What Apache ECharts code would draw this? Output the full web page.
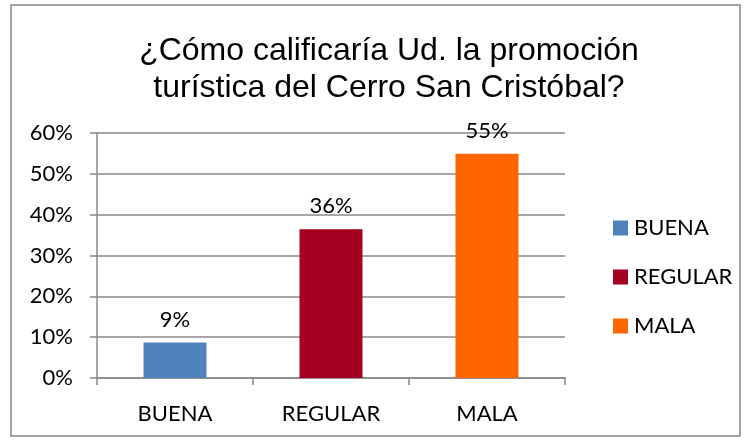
<!DOCTYPE html>
<html>
<head>
<meta charset="utf-8">
<script src="https://cdn.jsdelivr.net/npm/echarts@6/dist/echarts.min.js"></script>
<style>
html,body{margin:0;padding:0;background:#fff;}
#chart{width:750px;height:440px;}
</style>
</head>
<body>
<div id="chart"></div>
<script>
var categories = ['BUENA', 'REGULAR', 'MALA'];
var values = [8.7, 36.4, 54.9];
var labels = ['9%', '36%', '55%'];
var colors = ['#4F81BD', '#A50021', '#FF6600'];
var yTicks = [0, 10, 20, 30, 40, 50, 60];

var labelFont = 'Lato, "Open Sans", sans-serif';
var series = categories.map(function (name, i) {
  var d = categories.map(function (c, j) { return j === i ? values[i] : null; });
  return {
    name: name,
    type: 'bar',
    stack: 'all',
    data: d,
    barWidth: 63,
    itemStyle: { color: colors[i] },
    label: {
      show: true,
      position: 'top',
      distance: 12,
      color: '#000',
      fontSize: 22,
      fontFamily: labelFont,
      formatter: function () { return labels[i]; }
    }
  };
});

var chart = echarts.init(document.getElementById('chart'));
chart.setOption({
  animation: false,
  title: {
    text: '¿Cómo calificaría Ud. la promoción\nturística del Cerro San Cristóbal?',
    left: 384,
    textAlign: 'center',
    top: 28,
    textStyle: {
      fontFamily: '"Liberation Sans", Arial, sans-serif',
      fontWeight: 'normal',
      fontSize: 32,
      lineHeight: 37,
      color: '#000'
    }
  },
  legend: {
    orient: 'vertical',
    left: 608,
    top: 212,
    itemWidth: 15,
    itemHeight: 15,
    itemGap: 27,
    icon: 'rect',
    data: categories,
    textStyle: { fontSize: 22, fontFamily: labelFont, color: '#000', padding: [0, 0, 0, 1] }
  },
  grid: { left: 97, right: 185, top: 133, bottom: 62 },
  xAxis: {
    type: 'category',
    data: categories,
    axisLine: { lineStyle: { color: '#888', width: 1.5 } },
    axisTick: { show: true, length: 7, alignWithLabel: false, lineStyle: { color: '#888', width: 1.5 } },
    axisLabel: { fontSize: 22, fontFamily: labelFont, color: '#000', margin: 25 }
  },
  yAxis: {
    type: 'value',
    min: yTicks[0],
    max: yTicks[yTicks.length - 1],
    interval: 10,
    axisLine: { show: true, lineStyle: { color: '#888', width: 1.5 } },
    axisTick: { show: true, length: 7, lineStyle: { color: '#888', width: 1.5 } },
    splitLine: { lineStyle: { color: '#888', width: 1.5 } },
    axisLabel: { fontSize: 22, fontFamily: labelFont, color: '#000', margin: 24, formatter: '{value}%' }
  },
  graphic: [{
    type: 'rect',
    shape: { x: 11, y: 5, width: 729, height: 431 },
    style: { fill: 'none', stroke: '#868686', lineWidth: 1.5 },
    silent: true
  }],
  series: series
});
</script>
</body>
</html>
